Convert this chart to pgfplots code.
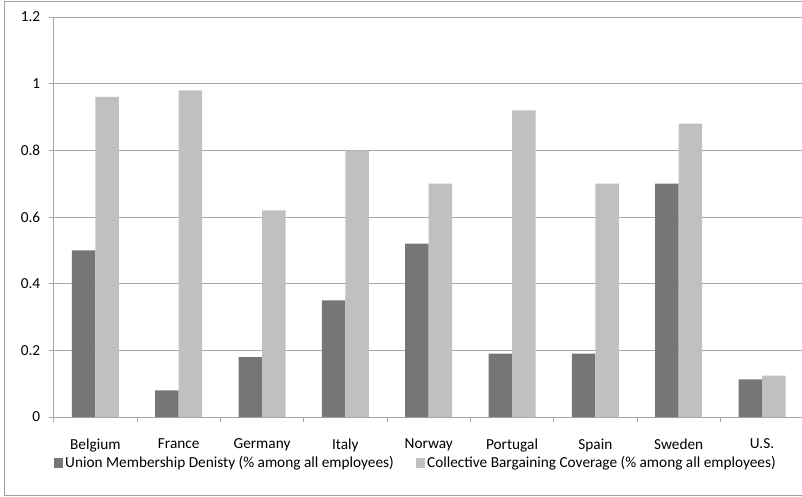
\documentclass[border=0pt]{standalone}
\usepackage{pgfplots}
\pgfplotsset{compat=1.18}
\usepackage{fontspec}
\setmainfont{Carlito}

\definecolor{unionc}{HTML}{767676}
\definecolor{cbc}{HTML}{C0C0C0}
\definecolor{gridc}{HTML}{A6A6A6}
\definecolor{framec}{HTML}{A0A0A0}

\begin{document}
\begin{tikzpicture}[x=1pt,y=1pt,font=\fontsize{15.3}{18}\selectfont]
\useasboundingbox (0,0) rectangle (802,496);
\draw[framec, line width=1pt] (803,1) -- (4,1) -- (4,494.5) -- (803,494.5);
\begin{axis}[
    at={(53.7pt,79pt)}, anchor=south west,
    scale only axis, width=750pt, height=400pt,
    ybar=0pt, bar width=23.5pt,
    xmin=-0.5, xmax=8.5, ymin=0, ymax=1.2,
    enlargelimits=false,
    xtick={0,1,2,3,4,5,6,7,8},
    xticklabels={Belgium,France,Germany,Italy,Norway,Portugal,Spain,Sweden,U.S.},
    major x tick style={draw=none},
    extra x ticks={-0.5,0.5,1.5,2.5,3.5,4.5,5.5,6.5,7.5,8.5},
    extra x tick labels={},
    extra x tick style={major x tick style={draw=gridc}, major tick length=5pt},
    ytick={0,0.2,0.4,0.6,0.8,1,1.2},
    yticklabels={0,0.2,0.4,0.6,0.8,1,1.2},
    tick align=outside, major tick length=5pt,
    tick style={gridc, line width=0.8pt},
    axis x line*=bottom, axis y line*=left,
    axis line style={gridc, line width=0.8pt, -},
    ymajorgrids, grid style={gridc, line width=0.8pt},
    yticklabel style={anchor=east, xshift=-5pt},
    xticklabel style={yshift=-13pt},
    legend style={at={(0,-0.115)}, anchor=west, draw=none, inner sep=0pt,
        /tikz/every even column/.append style={column sep=20pt}},
    legend columns=2,
    legend image code/.code={\fill[#1] (0pt,-4.65pt) rectangle (9.3pt,4.65pt);},
]
\addplot[fill=unionc, draw=none] coordinates {
    (0,0.50) (1,0.08) (2,0.18) (3,0.35) (4,0.52) (5,0.19) (6,0.19) (7,0.70) (8,0.113)
};
\addlegendentry{Union Membership Denisty (\% among all employees)}
\addplot[fill=cbc, draw=none] coordinates {
    (0,0.96) (1,0.98) (2,0.62) (3,0.80) (4,0.70) (5,0.92) (6,0.70) (7,0.88) (8,0.124)
};
\addlegendentry{Collective Bargaining Coverage (\% among all employees)}
\end{axis}
\end{tikzpicture}
\end{document}
